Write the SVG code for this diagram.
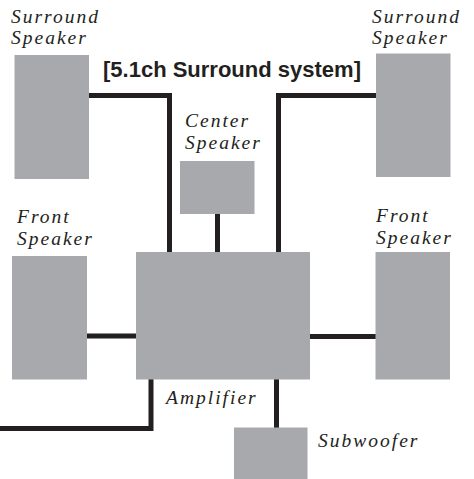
<svg xmlns="http://www.w3.org/2000/svg" width="474" height="479" viewBox="0 0 474 479">
<style>
.box{fill:#a7a9ac}
.lbl{font-family:"Liberation Serif","DejaVu Serif",serif;font-style:italic;font-size:19.5px;letter-spacing:2px;fill:#231f20}
.title{font-family:"Liberation Sans",Arial,sans-serif;font-weight:bold;font-size:22px;fill:#231f20}
.wire{fill:none;stroke:#231f20;stroke-width:5;stroke-linejoin:miter}
</style>
<rect width="474" height="479" fill="#ffffff"/>
<text class="title" x="103" y="77">[5.1ch Surround system]</text>
<g id="connectors">
<path class="wire" d="M88 95.5 H169.5 V253"/>
<path class="wire" d="M377 95.5 H278.5 V253"/>
<path class="wire" d="M217.5 213 V253"/>
<path class="wire" d="M86 336 H137"/>
<path class="wire" d="M309 336.5 H376"/>
<path class="wire" d="M276.5 378 V428"/>
<path class="wire" d="M151 378 V428.5 H0"/>
</g>
<g id="surround-left">
<rect class="box" x="14.5" y="55" width="74.5" height="124"/>
<text class="lbl" x="11" y="23">Surround</text>
<text class="lbl" x="11" y="44">Speaker</text>
</g>
<g id="surround-right">
<rect class="box" x="376" y="53.5" width="74.5" height="123.5"/>
<text class="lbl" x="372" y="23">Surround</text>
<text class="lbl" x="372" y="44">Speaker</text>
</g>
<g id="center">
<rect class="box" x="180" y="161" width="74.5" height="53"/>
<text class="lbl" x="185" y="127">Center</text>
<text class="lbl" x="185" y="149">Speaker</text>
</g>
<g id="front-left">
<rect class="box" x="12" y="256" width="75" height="123.5"/>
<text class="lbl" x="17" y="223">Front</text>
<text class="lbl" x="17" y="245">Speaker</text>
</g>
<g id="front-right">
<rect class="box" x="375.5" y="252" width="74.5" height="127.5"/>
<text class="lbl" x="376" y="222">Front</text>
<text class="lbl" x="376" y="244">Speaker</text>
</g>
<g id="amplifier">
<rect class="box" x="136" y="252" width="174" height="127.5"/>
<text class="lbl" x="166" y="404">Amplifier</text>
</g>
<g id="subwoofer">
<rect class="box" x="234" y="427.5" width="73.5" height="51.5"/>
<text class="lbl" x="318" y="447">Subwoofer</text>
</g>
</svg>
